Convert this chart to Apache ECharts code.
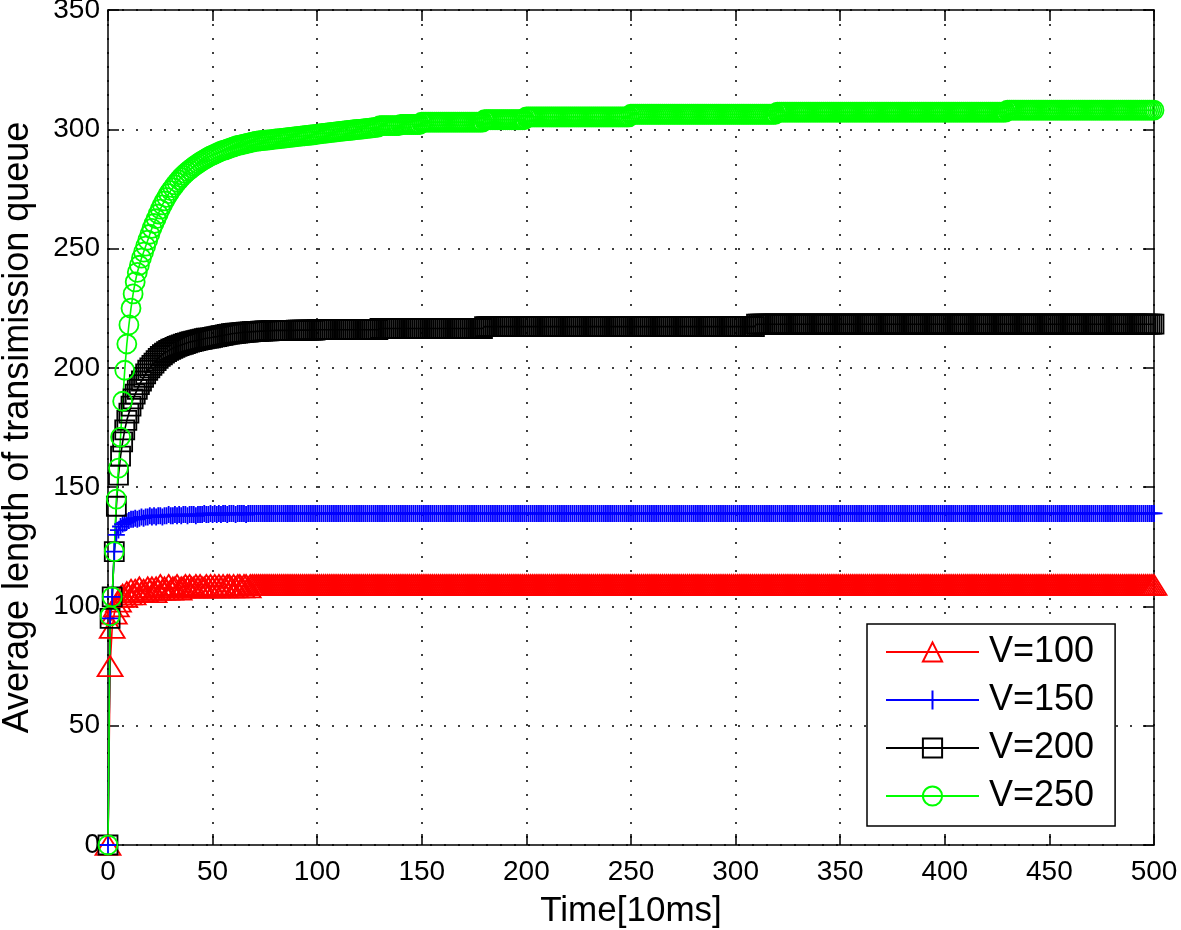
<!DOCTYPE html>
<html><head><meta charset="utf-8">
<script src="https://cdn.jsdelivr.net/npm/echarts/dist/echarts.min.js"></script>
<style>html,body{margin:0;padding:0;background:#fff}#c{width:1181px;height:930px}</style>
</head><body><div id="c"></div>
<script>
const xTicks = [0,50,100,150,200,250,300,350,400,450,500];
const yTicks = [0,50,100,150,200,250,300,350];
const seriesNames = ['V=100','V=150','V=200','V=250'];

// values for t = 0 .. 500 (one per time step)
const v100 = [
0,75,91,97,100,102,104,105,104,106,
105,107,105,107,106,108,106,107,106,108,
107,108,106,108,107,109,107,108,107,109,
107,108,108,109,107,108,108,109,108,109,
108,108,109,108,109,108,108,109,108,109,
108,109,108,109,108,109,108,109,109,108,
109,108,109,109,108,109,109,108,109,109,
109,109,109,109,109,109,109,109,109,109,
109,109,109,109,109,109,109,109,109,109,
109,109,109,109,109,109,109,109,109,109,
109,109,109,109,109,109,109,109,109,109,
109,109,109,109,109,109,109,109,109,109,
109,109,109,109,109,109,109,109,109,109,
109,109,109,109,109,109,109,109,109,109,
109,109,109,109,109,109,109,109,109,109,
109,109,109,109,109,109,109,109,109,109,
109,109,109,109,109,109,109,109,109,109,
109,109,109,109,109,109,109,109,109,109,
109,109,109,109,109,109,109,109,109,109,
109,109,109,109,109,109,109,109,109,109,
109,109,109,109,109,109,109,109,109,109,
109,109,109,109,109,109,109,109,109,109,
109,109,109,109,109,109,109,109,109,109,
109,109,109,109,109,109,109,109,109,109,
109,109,109,109,109,109,109,109,109,109,
109,109,109,109,109,109,109,109,109,109,
109,109,109,109,109,109,109,109,109,109,
109,109,109,109,109,109,109,109,109,109,
109,109,109,109,109,109,109,109,109,109,
109,109,109,109,109,109,109,109,109,109,
109,109,109,109,109,109,109,109,109,109,
109,109,109,109,109,109,109,109,109,109,
109,109,109,109,109,109,109,109,109,109,
109,109,109,109,109,109,109,109,109,109,
109,109,109,109,109,109,109,109,109,109,
109,109,109,109,109,109,109,109,109,109,
109,109,109,109,109,109,109,109,109,109,
109,109,109,109,109,109,109,109,109,109,
109,109,109,109,109,109,109,109,109,109,
109,109,109,109,109,109,109,109,109,109,
109,109,109,109,109,109,109,109,109,109,
109,109,109,109,109,109,109,109,109,109,
109,109,109,109,109,109,109,109,109,109,
109,109,109,109,109,109,109,109,109,109,
109,109,109,109,109,109,109,109,109,109,
109,109,109,109,109,109,109,109,109,109,
109,109,109,109,109,109,109,109,109,109,
109,109,109,109,109,109,109,109,109,109,
109,109,109,109,109,109,109,109,109,109,
109,109,109,109,109,109,109,109,109,109,
109
];

const v150 = [
0,95,104,123,130,132,133.5,134.5,135,135.5,
136,136.5,136.5,137,136.5,137,137.5,137,137.5,137.5,
138,137.5,138,137.5,138,138,137.5,138,138,138.5,
138,138,138.5,138,138.5,138,138.5,138.5,138,138.5,
138.5,138.5,138,138.5,138.5,138.5,139,138.5,138.5,139,
138.5,139,138.5,139,138.5,139,139,138.5,139,139,
139,138.5,139,139,139,139,138.5,139,139,139,
139,139,139,139,139,139,139,139,139,139,
139,139,139,139,139,139,139,139,139,139,
139,139,139,139,139,139,139,139,139,139,
139,139,139,139,139,139,139,139,139,139,
139,139,139,139,139,139,139,139,139,139,
139,139,139,139,139,139,139,139,139,139,
139,139,139,139,139,139,139,139,139,139,
139,139,139,139,139,139,139,139,139,139,
139,139,139,139,139,139,139,139,139,139,
139,139,139,139,139,139,139,139,139,139,
139,139,139,139,139,139,139,139,139,139,
139,139,139,139,139,139,139,139,139,139,
139,139,139,139,139,139,139,139,139,139,
139,139,139,139,139,139,139,139,139,139,
139,139,139,139,139,139,139,139,139,139,
139,139,139,139,139,139,139,139,139,139,
139,139,139,139,139,139,139,139,139,139,
139,139,139,139,139,139,139,139,139,139,
139,139,139,139,139,139,139,139,139,139,
139,139,139,139,139,139,139,139,139,139,
139,139,139,139,139,139,139,139,139,139,
139,139,139,139,139,139,139,139,139,139,
139,139,139,139,139,139,139,139,139,139,
139,139,139,139,139,139,139,139,139,139,
139,139,139,139,139,139,139,139,139,139,
139,139,139,139,139,139,139,139,139,139,
139,139,139,139,139,139,139,139,139,139,
139,139,139,139,139,139,139,139,139,139,
139,139,139,139,139,139,139,139,139,139,
139,139,139,139,139,139,139,139,139,139,
139,139,139,139,139,139,139,139,139,139,
139,139,139,139,139,139,139,139,139,139,
139,139,139,139,139,139,139,139,139,139,
139,139,139,139,139,139,139,139,139,139,
139,139,139,139,139,139,139,139,139,139,
139,139,139,139,139,139,139,139,139,139,
139,139,139,139,139,139,139,139,139,139,
139,139,139,139,139,139,139,139,139,139,
139,139,139,139,139,139,139,139,139,139,
139,139,139,139,139,139,139,139,139,139,
139,139,139,139,139,139,139,139,139,139,
139,139,139,139,139,139,139,139,139,139,
139,139,139,139,139,139,139,139,139,139,
139
];

const v200 = [
0,95,104,123,142,155,163,169,174,178,
181,184,187,189,191,193,194.5,196,197.5,199,
200,201,202,203,204,204.8,205.5,206.2,206.8,207.3,
207.8,208.2,208.6,209,209.3,209.6,209.9,210.2,210.5,210.8,
211,211.2,211.4,211.6,211.8,212,212.2,212.4,212.5,212.6,
212.8,213,213.1,213.3,213.5,213.6,213.8,214,214.1,214.3,
214.4,214.5,214.6,214.7,214.8,214.9,215,215,215.1,215.2,
215.2,215.3,215.3,215.4,215.4,215.5,215.5,215.5,215.6,215.6,
215.7,215.7,215.7,215.7,215.7,215.7,215.7,215.7,215.7,215.7,
215.8,215.8,215.8,215.8,215.8,215.8,215.8,215.8,215.8,215.8,
216,216,216,216,216,216,216,216,216,216,
216,216,216,216,216,216,216,216,216,216,
216,216,216,216,216,216,216,216,216,216,
216.5,216.5,216.5,216.5,216.5,216.5,216.5,216.5,216.5,216.5,
216.5,216.5,216.5,216.5,216.5,216.5,216.5,216.5,216.5,216.5,
216.5,216.5,216.5,216.5,216.5,216.5,216.5,216.5,216.5,216.5,
216.5,216.5,216.5,216.5,216.5,216.5,216.5,216.5,216.5,216.5,
216.5,216.5,216.5,216.5,216.5,216.5,216.5,216.5,216.5,216.5,
217.3,217.3,217.3,217.3,217.3,217.3,217.3,217.3,217.3,217.3,
217.3,217.3,217.3,217.3,217.3,217.3,217.3,217.3,217.3,217.3,
217.3,217.3,217.3,217.3,217.3,217.3,217.3,217.3,217.3,217.3,
217.3,217.3,217.3,217.3,217.3,217.3,217.3,217.3,217.3,217.3,
217.3,217.3,217.3,217.3,217.3,217.3,217.3,217.3,217.3,217.3,
217.3,217.3,217.3,217.3,217.3,217.3,217.3,217.3,217.3,217.3,
217.3,217.3,217.3,217.3,217.3,217.3,217.3,217.3,217.3,217.3,
217.3,217.3,217.3,217.3,217.3,217.3,217.3,217.3,217.3,217.3,
217.3,217.3,217.3,217.3,217.3,217.3,217.3,217.3,217.3,217.3,
217.3,217.3,217.3,217.3,217.3,217.3,217.3,217.3,217.3,217.3,
217.3,217.3,217.3,217.3,217.3,217.3,217.3,217.3,217.3,217.3,
217.3,217.3,217.3,217.3,217.3,217.3,217.3,217.3,217.3,217.3,
217.3,217.3,217.3,217.3,217.3,217.3,217.3,217.3,217.3,217.3,
218.3,218.3,218.3,218.3,218.3,218.3,218.3,218.3,218.3,218.3,
218.3,218.3,218.3,218.3,218.3,218.3,218.3,218.3,218.3,218.3,
218.3,218.3,218.3,218.3,218.3,218.3,218.3,218.3,218.3,218.3,
218.3,218.3,218.3,218.3,218.3,218.3,218.3,218.3,218.3,218.3,
218.3,218.3,218.3,218.3,218.3,218.3,218.3,218.3,218.3,218.3,
218.3,218.3,218.3,218.3,218.3,218.3,218.3,218.3,218.3,218.3,
218.3,218.3,218.3,218.3,218.3,218.3,218.3,218.3,218.3,218.3,
218.3,218.3,218.3,218.3,218.3,218.3,218.3,218.3,218.3,218.3,
218.3,218.3,218.3,218.3,218.3,218.3,218.3,218.3,218.3,218.3,
218.3,218.3,218.3,218.3,218.3,218.3,218.3,218.3,218.3,218.3,
218.3,218.3,218.3,218.3,218.3,218.3,218.3,218.3,218.3,218.3,
218.3,218.3,218.3,218.3,218.3,218.3,218.3,218.3,218.3,218.3,
218.3,218.3,218.3,218.3,218.3,218.3,218.3,218.3,218.3,218.3,
218.3,218.3,218.3,218.3,218.3,218.3,218.3,218.3,218.3,218.3,
218.3,218.3,218.3,218.3,218.3,218.3,218.3,218.3,218.3,218.3,
218.3,218.3,218.3,218.3,218.3,218.3,218.3,218.3,218.3,218.3,
218.3,218.3,218.3,218.3,218.3,218.3,218.3,218.3,218.3,218.3,
218.3,218.3,218.3,218.3,218.3,218.3,218.3,218.3,218.3,218.3,
218.3,218.3,218.3,218.3,218.3,218.3,218.3,218.3,218.3,218.3,
218.3
];

const v250 = [
0,96,104,123,145,158,171,186,199,210,
218,225,231,236,240,243,246,248.5,251,253.5,
256,258.5,260.5,262.5,264.5,266.5,268.3,270,271.5,273,
274.3,275.5,276.7,277.8,278.8,279.8,280.7,281.5,282.3,283,
283.7,284.4,285,285.6,286.2,286.8,287.3,287.8,288.3,288.8,
289.2,289.6,290,290.4,290.8,291.1,291.4,291.7,292,292.3,
292.6,292.9,293.2,293.4,293.6,293.8,294,294.2,294.4,294.6,
294.8,295,295.1,295.2,295.3,295.4,295.5,295.6,295.7,295.8,
296,296,296.1,296.2,296.3,296.4,296.5,296.6,296.7,296.8,
296.9,297,297.1,297.2,297.3,297.4,297.5,297.6,297.7,297.8,
298,298.1,298.2,298.3,298.4,298.5,298.6,298.7,298.8,298.9,
299,299.1,299.2,299.3,299.4,299.5,299.6,299.7,299.8,299.9,
300,300.1,300.2,300.3,300.4,300.5,300.6,300.7,300.8,300.9,
301.5,301.5,301.5,301.5,301.5,301.5,301.5,301.5,301.5,301.5,
302,302,302,302,302,302,302,302,302,302,
303,303,303,303,303,303,303,303,303,303,
303,303,303,303,303,303,303,303,303,303,
303,303,303,303,303,303,303,303,303,303,
304,304,304,304,304,304,304,304,304,304,
304,304,304,304,304,304,304,304,304,304,
305.2,305.2,305.2,305.2,305.2,305.2,305.2,305.2,305.2,305.2,
305.2,305.2,305.2,305.2,305.2,305.2,305.2,305.2,305.2,305.2,
305.2,305.2,305.2,305.2,305.2,305.2,305.2,305.2,305.2,305.2,
305.2,305.2,305.2,305.2,305.2,305.2,305.2,305.2,305.2,305.2,
305.2,305.2,305.2,305.2,305.2,305.2,305.2,305.2,305.2,305.2,
306.3,306.3,306.3,306.3,306.3,306.3,306.3,306.3,306.3,306.3,
306.3,306.3,306.3,306.3,306.3,306.3,306.3,306.3,306.3,306.3,
306.3,306.3,306.3,306.3,306.3,306.3,306.3,306.3,306.3,306.3,
306.3,306.3,306.3,306.3,306.3,306.3,306.3,306.3,306.3,306.3,
306.3,306.3,306.3,306.3,306.3,306.3,306.3,306.3,306.3,306.3,
306.3,306.3,306.3,306.3,306.3,306.3,306.3,306.3,306.3,306.3,
306.3,306.3,306.3,306.3,306.3,306.3,306.3,306.3,306.3,306.3,
307.2,307.2,307.2,307.2,307.2,307.2,307.2,307.2,307.2,307.2,
307.2,307.2,307.2,307.2,307.2,307.2,307.2,307.2,307.2,307.2,
307.2,307.2,307.2,307.2,307.2,307.2,307.2,307.2,307.2,307.2,
307.2,307.2,307.2,307.2,307.2,307.2,307.2,307.2,307.2,307.2,
307.2,307.2,307.2,307.2,307.2,307.2,307.2,307.2,307.2,307.2,
307.2,307.2,307.2,307.2,307.2,307.2,307.2,307.2,307.2,307.2,
307.2,307.2,307.2,307.2,307.2,307.2,307.2,307.2,307.2,307.2,
307.2,307.2,307.2,307.2,307.2,307.2,307.2,307.2,307.2,307.2,
307.2,307.2,307.2,307.2,307.2,307.2,307.2,307.2,307.2,307.2,
307.2,307.2,307.2,307.2,307.2,307.2,307.2,307.2,307.2,307.2,
307.2,307.2,307.2,307.2,307.2,307.2,307.2,307.2,307.2,307.2,
308,308,308,308,308,308,308,308,308,308,
308,308,308,308,308,308,308,308,308,308,
308,308,308,308,308,308,308,308,308,308,
308,308,308,308,308,308,308,308,308,308,
308,308,308,308,308,308,308,308,308,308,
308,308,308,308,308,308,308,308,308,308,
308,308,308,308,308,308,308,308,308,308,
308
];

const FONT = "'Liberation Sans', Arial, Helvetica, sans-serif";
const BLACK_LINE = {color: '#000', width: 1.5};
const plusPath = 'path://M0,-1L0,1M-1,0L1,0';

function mkSeries(name, vals, color, symbol, size) {
  return {
    name: name,
    type: 'line',
    data: vals.map(function (v, i) { return [i, v]; }),
    symbol: symbol,
    symbolSize: size,
    showSymbol: true,
    showAllSymbol: true,
    clip: false,
    silent: true,
    animation: false,
    lineStyle: {color: color, width: 1.6},
    itemStyle: {color: 'none', borderColor: color, borderWidth: 1.8},
    emphasis: {disabled: true}
  };
}

const chart = echarts.init(document.getElementById('c'), null, {renderer: 'canvas'});
chart.setOption({
  animation: false,
  backgroundColor: '#fff',
  textStyle: {fontFamily: FONT},
  grid: {left: 108, right: 27, top: 10, bottom: 85, containLabel: false, outerBoundsMode: 'none'},
  legend: {
    orient: 'vertical',
    left: 867, top: 624,
    padding: [10, 21, 12, 18],
    itemWidth: 93, itemHeight: 24, itemGap: 12,
    backgroundColor: '#fff',
    borderColor: '#000', borderWidth: 1.5,
    selectedMode: false,
    textStyle: {fontSize: 36, color: '#000', fontFamily: FONT, padding: [0, 0, 0, 5]},
    data: seriesNames
  },
  xAxis: [{
    type: 'value', position: 'bottom',
    min: xTicks[0], max: xTicks[xTicks.length - 1], interval: xTicks[1] - xTicks[0],
    axisLine: {show: true, onZero: false, lineStyle: BLACK_LINE},
    axisTick: {show: true, inside: true, length: 11, lineStyle: BLACK_LINE},
    axisLabel: {fontSize: 28, color: '#000', margin: 13, fontFamily: FONT},
    splitLine: {show: true, lineStyle: {color: '#000', width: 1.5, type: [2, 12]}},
    name: 'Time[10ms]', nameLocation: 'middle', nameGap: 49,
    nameTextStyle: {fontSize: 35, color: '#000', fontFamily: FONT}
  }, {
    type: 'value', position: 'top',
    min: xTicks[0], max: xTicks[xTicks.length - 1], interval: xTicks[1] - xTicks[0],
    axisLine: {show: true, onZero: false, lineStyle: BLACK_LINE},
    axisTick: {show: true, inside: true, length: 11, lineStyle: BLACK_LINE},
    axisLabel: {show: false},
    splitLine: {show: false}
  }],
  yAxis: [{
    type: 'value', position: 'left',
    min: yTicks[0], max: yTicks[yTicks.length - 1], interval: yTicks[1] - yTicks[0],
    axisLine: {show: true, onZero: false, lineStyle: BLACK_LINE},
    axisTick: {show: true, inside: true, length: 11, lineStyle: BLACK_LINE},
    axisLabel: {fontSize: 28, color: '#000', margin: 8, fontFamily: FONT},
    splitLine: {show: true, lineStyle: {color: '#000', width: 1.5, type: [2, 12]}},
    name: 'Average length of transimission queue', nameLocation: 'middle', nameGap: 72,
    nameTextStyle: {fontSize: 36, color: '#000', fontFamily: FONT}
  }, {
    type: 'value', position: 'right',
    min: yTicks[0], max: yTicks[yTicks.length - 1], interval: yTicks[1] - yTicks[0],
    axisLine: {show: true, onZero: false, lineStyle: BLACK_LINE},
    axisTick: {show: true, inside: true, length: 11, lineStyle: BLACK_LINE},
    axisLabel: {show: false},
    splitLine: {show: false}
  }],
  series: [
    mkSeries(seriesNames[0], v100, '#ff0000', 'triangle', [25, 20]),
    mkSeries(seriesNames[1], v150, '#0000ff', plusPath, 17),
    mkSeries(seriesNames[2], v200, '#000000', 'rect', 19),
    mkSeries(seriesNames[3], v250, '#00ff00', 'circle', 19)
  ]
});
</script></body></html>
